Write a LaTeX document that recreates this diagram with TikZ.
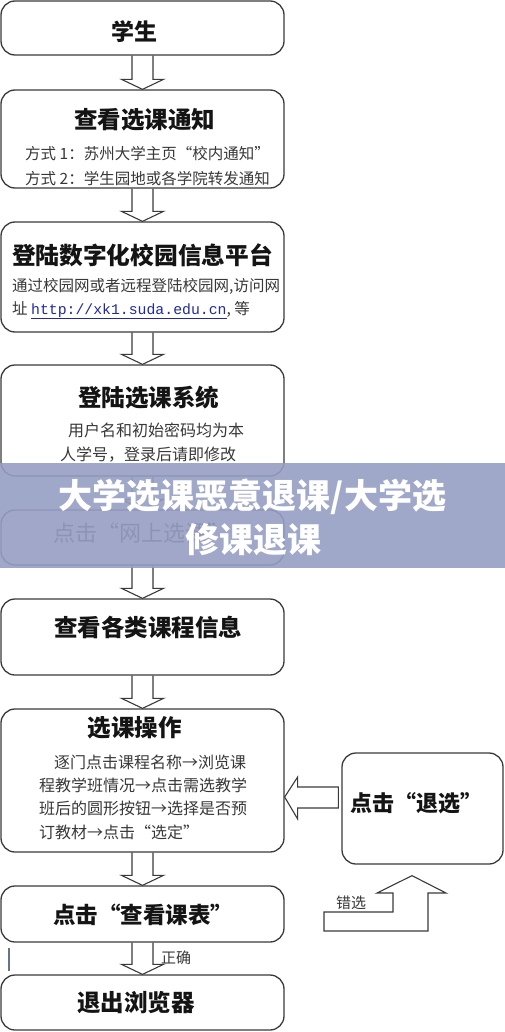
\documentclass[tikz,border=0pt]{standalone}
\usepackage{fontspec}
\setmainfont{Noto Sans CJK SC}
\newfontfamily\urlmono{Liberation Mono}
\usetikzlibrary{calc}
\definecolor{bord}{HTML}{3A3A3A}
\definecolor{bannerc}{RGB}{150,158,196}
\definecolor{urlblue}{HTML}{1F2A9C}
\newcommand\lqq{\makebox[1em][r]{“}}
\newcommand\rqq{\makebox[1em][l]{”}}
\tikzset{
  box/.style={draw=bord, line width=1.3pt, rounded corners=14pt, fill=white, minimum width=283pt, inner sep=0pt},
  blk/.style={draw=bord, line width=1.1pt, line join=miter},
  ttl/.style={font=\fontsize{23.5}{28}\selectfont\bfseries, inner sep=0pt, text=black!92},
  bodytxt/.style={font=\fontsize{15.5}{20}\selectfont, inner sep=0pt, text=black!78, anchor=west},
  bantxt/.style={font=\fontsize{34}{40}\selectfont\bfseries, inner sep=0pt, text=white},
}
\newcommand\blkdown[2]{\draw[blk] let \p1=(#1.south), \p2=(#2.north) in
  (\x1-10.5pt,\y1) -- (\x1-10.5pt,\y2+10pt) -- (\x1-21pt,\y2+10pt) -- (\x1,\y2)
  -- (\x1+21pt,\y2+10pt) -- (\x1+10.5pt,\y2+10pt) -- (\x1+10.5pt,\y1);}
\begin{document}
\begin{tikzpicture}[x=1pt,y=-1pt]
\useasboundingbox (0,0) rectangle (505,1032);
% boxes
\node[box, minimum height=54pt]  (b1) at (142.5,28) {};
\node[box, minimum height=98pt]  (b2) at (142.5,139) {};
\node[box, minimum height=110pt] (b3) at (142.5,277) {};
\node[box, minimum height=111pt] (b4) at (142.5,420.5) {};
\node[box, minimum height=55pt]  (b5) at (142.5,537.5) {};
\node[box, minimum height=76pt]  (b6) at (142.5,637) {};
\node[box, minimum height=143pt] (b7) at (142.5,780.5) {};
\node[box, minimum height=56pt]  (b8) at (142.5,914) {};
\node[box, minimum height=55pt]  (b9) at (142.5,1002.5) {};
\node[box, minimum width=161pt, minimum height=111pt] (rb) at (422.5,808.5) {};
% texts
\node[ttl, font=\fontsize{23}{28}\selectfont\bfseries] (t1) at (134.5,32) {学生};
\node[ttl] (t2) at (144.5,120) {查看选课通知};
\node[bodytxt] (t2a) at (25,154) {方式 1：苏州大学主页\lqq 校内通知\rqq};
\node[bodytxt] (t2b) at (25,179) {方式 2：学生园地或各学院转发通知};
\node[ttl, font=\fontsize{23.7}{28}\selectfont\bfseries] (t3) at (142.5,255) {登陆数字化校园信息平台};
\node[bodytxt] (t3a) at (12,286) {通过校园网或者远程登陆校园网,访问网};
\node[bodytxt] (t3b) at (12,310) {址 {\urlmono\fontsize{14.8}{18}\selectfont\color{urlblue}\underline{http://xk1.suda.edu.cn}}, 等};
\node[ttl] (t4) at (148.5,398) {登陆选课系统};
\node[bodytxt, font=\fontsize{16}{20}\selectfont] (t4a) at (68,430) {用户名和初始密码均为本};
\node[bodytxt, font=\fontsize{16}{20}\selectfont] (t4b) at (60,455) {人学号，登录后请即修改};
\node[bodytxt, font=\fontsize{22}{26}\selectfont] (t5) at (53,533) {点击\lqq 网上选课\rqq};
\node[ttl] (t6) at (148,627) {查看各类课程信息};
\node[ttl] (t7) at (134.5,728) {选课操作};
\node[bodytxt, font=\fontsize{16}{20}\selectfont] (t7a) at (54,762) {逐门点击课程名称→浏览课};
\node[bodytxt, font=\fontsize{16}{20}\selectfont] (t7b) at (39,785) {程教学班情况→点击需选教学};
\node[bodytxt, font=\fontsize{16}{20}\selectfont] (t7c) at (39,808) {班后的圆形按钮→选择是否预};
\node[bodytxt, font=\fontsize{16}{20}\selectfont] (t7d) at (39,832) {订教材→点击\lqq 选定\rqq};
\node[ttl, font=\fontsize{22.5}{28}\selectfont\bfseries] (t8) at (143,915) {点击\lqq 查看课表\rqq};
\node[ttl] (t9) at (136,1003) {退出浏览器};
\node[ttl, font=\fontsize{22}{28}\selectfont\bfseries] (tr) at (416.5,803) {点击\lqq 退选\rqq};
% down arrows
\blkdown{b1}{b2}
\blkdown{b2}{b3}
\blkdown{b3}{b4}
\blkdown{b4}{b5}
\blkdown{b5}{b6}
\blkdown{b6}{b7}
\blkdown{b7}{b8}
\blkdown{b8}{b9}
\node[bodytxt, font=\fontsize{15}{18}\selectfont, anchor=center] (lz) at (176,958) {正确};
% left arrow from rb to b7
\draw[blk] let \p1=($(b7.east)+(0,16.5)$), \p2=(rb.west) in
  (\x2-3pt,\y1+10pt) -- (\x1+13pt,\y1+10pt) -- (\x1+13pt,\y1+20pt) -- (\x1,\y1)
  -- (\x1+13pt,\y1-22pt) -- (\x1+13pt,\y1-11pt) -- (\x2-3pt,\y1-11pt) -- cycle;
% bent up arrow (wrong choice)
\coordinate (cw) at (324,931);
\draw[blk] let \p1=(cw), \p2=(rb.south) in
  (\x1,\y1+19pt) -- (\x1+69pt,\y1+19pt) -- (\x1+69pt,\y1+38pt) -- (\x1+53pt,\y1+38pt)
  -- (\x2-10.5pt,\y2-11pt) -- (\x1+122pt,\y1+38pt) -- (\x1+104pt,\y1+38pt)
  -- (\x1+104pt,\y1) -- (\x1,\y1) -- cycle;
\node[bodytxt, font=\fontsize{15}{18}\selectfont, anchor=center] (lc) at (351,903) {错选};
% small mark at left
\draw[color={rgb,255:red,100;green,116;blue,140}, line width=2pt] (9,948) -- (9,971);
% banner overlay
\fill[bannerc, opacity=0.9] (0,463) rectangle (505,568);
\node[bantxt] (ban1) at (252.5,497) {大学选课恶意退课/大学选};
\node[bantxt] (ban2) at (253.5,540) {修课退课};
\end{tikzpicture}
\end{document}
